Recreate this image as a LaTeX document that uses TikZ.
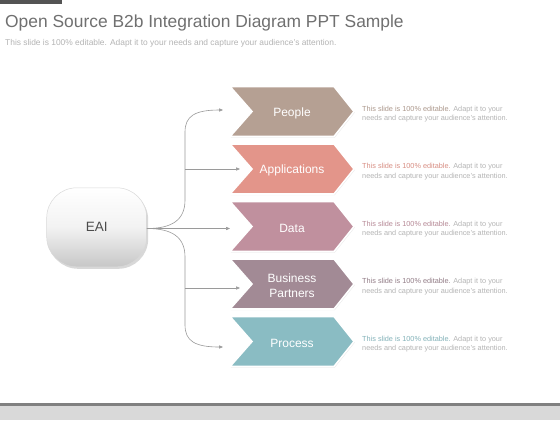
\documentclass[tikz,border=0pt]{standalone}
\usepackage{fontspec}
\setmainfont{Liberation Sans}
\usetikzlibrary{shadows,arrows.meta}
\definecolor{cPeople}{HTML}{B5A093}
\definecolor{cApp}{HTML}{E3958A}
\definecolor{cData}{HTML}{C0909E}
\definecolor{cBP}{HTML}{A28A95}
\definecolor{cProc}{HTML}{8ABCC3}
\definecolor{titlegray}{HTML}{707070}
\definecolor{subgray}{HTML}{B4B4B4}
\definecolor{linegray}{HTML}{9A9A9A}
\definecolor{bandgray}{HTML}{D9D9D9}
\newcommand\mychev[4]{% name, y, color, text
  \path[fill=#3, draw=white, line width=1.6bp, line join=miter,
        drop shadow={opacity=0.18, shadow xshift=0.8bp, shadow yshift=-1bp}]
    (230,#2-25) -- (334,#2-25) -- (354,#2) -- (334,#2+25) -- (230,#2+25) -- (252,#2) -- cycle;
  \node[chevtext] (#1) at (292,#2+1.5) {#4};
}
\newcommand\myside[3]{% name, y, color
  \node[sidetext] (#1) at (362,#2+2.5) {\textcolor{#3}{This slide is 100\% editable.} Adapt it to your\\needs and capture your audience's attention.};
}
\begin{document}
\begin{tikzpicture}[x=1bp,y=-1bp,
  chevtext/.style={text=white, font=\fontsize{12bp}{14.5bp}\selectfont, align=center, inner sep=0},
  sidetext/.style={anchor=west, text=subgray, font=\fontsize{7.3bp}{9.4bp}\selectfont, align=left, inner sep=0},
  conn/.style={draw=linegray, line width=0.6bp, -{Triangle[length=4bp,width=3.2bp]}}]
\useasboundingbox[fill=white] (0,0) rectangle (560,420);
% top bar and bottom band
\fill[black!67] (0,0) rectangle (62,3.5);
\fill[bandgray] (0,405) rectangle (560,420);
\fill[black!50] (0,403) rectangle (560,405.5);
% title
\node[anchor=base west, inner sep=0, text=titlegray, font=\fontsize{17.4bp}{20bp}\selectfont] (title) at (5,27) {Open Source B2b Integration Diagram PPT Sample};
\node[anchor=base west, inner sep=0, text=subgray, font=\fontsize{8.4bp}{9bp}\selectfont] (subtitle) at (5,45) {This slide is 100\% editable.  Adapt it to your needs and capture your audience's attention.};
% EAI
\node[draw=black!15, line width=0.5bp, rounded corners=30bp, minimum width=100bp, minimum height=79bp,
      top color=white, bottom color=black!22, middle color=black!5, text=black!70,
      drop shadow={opacity=0.3, shadow xshift=1.5bp, shadow yshift=-2bp},
      font=\fontsize{13.5bp}{15bp}\selectfont] (eai) at (96.7,227.3) {EAI};
% chevrons
\mychev{people}{111.5}{cPeople}{People}
\mychev{apps}{169}{cApp}{Applications}
\mychev{data}{226.5}{cData}{Data}
\mychev{bp}{284}{cBP}{Business\\Partners}
\mychev{proc}{341.5}{cProc}{Process}
% side texts
\myside{s1}{111.5}{cPeople!95!black}
\myside{s2}{169}{cApp!95!black}
\myside{s3}{226.5}{cData!95!black}
\myside{s4}{284}{cBP!90!black}
\myside{s5}{341.5}{cProc!95!black}
% connector end points
\coordinate (e1) at (223,110);
\coordinate (e2) at (240,169);
\coordinate (e3) at (230,228.5);
\coordinate (e4) at (240,288);
\coordinate (e5) at (223,347);
\coordinate (t2) at (185,169);
\coordinate (t4) at (185,288);
% connectors
\draw[conn] (eai.east |- 0,228.5) .. controls (172,228.5) and (185,220) .. (185,200) -- (185,132)
   .. controls (185,116) and (195,110) .. (e1);
\draw[conn] (eai.east |- 0,228.5) .. controls (172,228.5) and (185,237) .. (185,257) -- (185,325)
   .. controls (185,341) and (195,347) .. (e5);
\draw[conn] (eai.east |- 0,228.5) -- (e3);
\draw[conn] (t2) -- (e2);
\draw[conn] (t4) -- (e4);
\end{tikzpicture}
\end{document}
